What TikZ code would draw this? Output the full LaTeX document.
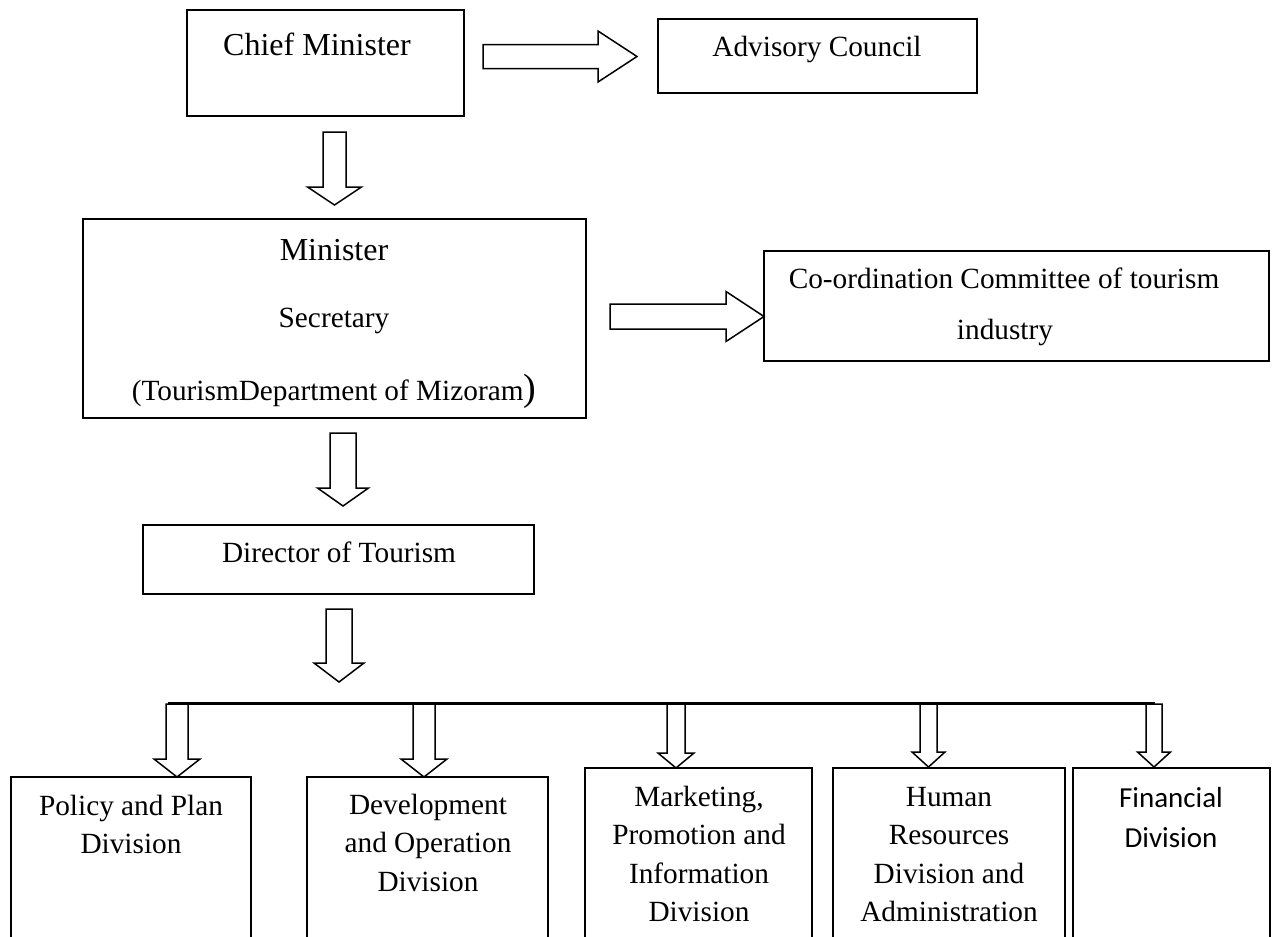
\documentclass[tikz,border=0pt]{standalone}
\usepackage{fontspec}
\setmainfont{Liberation Serif}
\newfontfamily\califont{Carlito}
\usetikzlibrary{calc}
\newcommand{\blockH}[5]{% start, tip, half shaft, half head, head length
 \draw[blk] ($(#1)+(0,-#3)$) -- ($(#2)+(-#5,-#3)$) -- ($(#2)+(-#5,-#4)$) -- (#2)
   -- ($(#2)+(-#5,#4)$) -- ($(#2)+(-#5,#3)$) -- ($(#1)+(0,#3)$) -- cycle;}
\newcommand{\blockV}[5]{% top, tip, half shaft, half head, head length
 \draw[blk] ($(#1)+(-#3,0)$) -- ($(#2)+(-#3,-#5)$) -- ($(#2)+(-#4,-#5)$) -- (#2)
   -- ($(#2)+(#4,-#5)$) -- ($(#2)+(#3,-#5)$) -- ($(#1)+(#3,0)$) -- cycle;}
\begin{document}
\begin{tikzpicture}[x=1pt,y=-1pt,
  box/.style={draw, line width=1.8pt, inner sep=0pt, outer sep=0pt},
  blk/.style={draw, line width=1.5pt, fill=white, line join=miter},
  txt/.style={inner sep=0pt, anchor=base, font=\fontsize{29.3}{38.5}\selectfont},
  big/.style={txt, font=\fontsize{32}{38.5}\selectfont},
  mtxt/.style={txt, text width=236pt, align=flush center},
  ctxt/.style={inner sep=0pt, anchor=base, text width=190pt, align=flush center, font=\califont\fontsize{29}{40}\selectfont}]
\useasboundingbox (0,0) rectangle (1278,937);
\clip (0,0) rectangle (1278,937);
\fill[white] (0,0) rectangle (1278,937);

% top row
\node[box, minimum width=277pt, minimum height=106pt] (cm) at (325.5,63) {};
\node[big] (cmt) at (317,55) {Chief Minister};
\node[box, minimum width=319pt, minimum height=74pt] (adv) at (817.5,56) {};
\node[txt] (advt) at (817,56) {Advisory Council};
\coordinate (a1s) at (483,56.5);
\coordinate (a1e) at (637,56.5);
\blockH{a1s}{a1e}{12}{25.5}{39}

\coordinate (a2s) at (334.5,132);
\coordinate (a2e) at (334.5,205);
\blockV{a2s}{a2e}{11.5}{27}{18}

% minister
\node[box, minimum width=503pt, minimum height=199pt] (min) at (334.5,318.5) {};
\node[big] (mint) at (334,260) {Minister};
\node[txt] (sect) at (334,327) {Secretary};
\node[txt] (tdt) at (334,400) {(TourismDepartment of Mizoram{\fontsize{38}{38}\selectfont)}};
\coordinate (a3s) at (610,316.5);
\coordinate (a3e) at (764,316.5);
\blockH{a3s}{a3e}{12.5}{25}{38}
\node[box, minimum width=505pt, minimum height=110pt] (coord) at (1016.5,306) {};
\node[txt] (coordt1) at (1004,288) {Co-ordination Committee of tourism};
\node[txt] (coordt2) at (1005,339) {industry};

\coordinate (a4s) at (343,433);
\coordinate (a4e) at (343,506);
\blockV{a4s}{a4e}{13}{25.5}{18}

% director
\node[box, minimum width=391pt, minimum height=69pt] (dir) at (338.5,559.5) {};
\node[txt] (dirt) at (339,562) {Director of Tourism};
\coordinate (a5s) at (339,609);
\coordinate (a5e) at (339,682);
\blockV{a5s}{a5e}{13}{25}{19}

% distribution line
\coordinate (hl) at (168,703.5);
\coordinate (hr) at (1155,703.5);
\draw[line width=2.4pt] (hl) -- (hr);

% division boxes
\node[box, minimum width=240pt, minimum height=200pt, anchor=north west] (d1) at (11,777) {};
\node[box, minimum width=241pt, minimum height=200pt, anchor=north west] (d2) at (307,777) {};
\node[box, minimum width=227pt, minimum height=200pt, anchor=north west] (d3) at (585,768) {};
\node[box, minimum width=232pt, minimum height=200pt, anchor=north west] (d4) at (833,768) {};
\node[box, minimum width=197pt, minimum height=200pt, anchor=north west] (d5) at (1073,768) {};

\node[mtxt] (d1t) at (131,815) {Policy and Plan\\Division};
\node[mtxt] (d2t) at (428,814) {Development\\and Operation\\Division};
\node[mtxt, text width=226pt] (d3t) at (699,806) {Marketing,\\Promotion and\\Information\\Division};
\node[mtxt, text width=230pt] (d4t) at (949,806) {Human\\Resources\\Division and\\Administration};
\node[ctxt] (d5t) at (1171,807) {Financial\\Division};

% division arrows
\coordinate (b1s) at (177,704);  \coordinate (b1e) at (177,777);
\coordinate (b2s) at (424,704);  \coordinate (b2e) at (424,777);
\coordinate (b3s) at (676,704);  \coordinate (b3e) at (676,768);
\coordinate (b4s) at (928.5,704); \coordinate (b4e) at (928.5,767);
\coordinate (b5s) at (1154,704); \coordinate (b5e) at (1154,767);
\blockV{b1s}{b1e}{11}{23}{18}
\blockV{b2s}{b2e}{11}{23}{18}
\blockV{b3s}{b3e}{9}{18}{15}
\blockV{b4s}{b4e}{8.5}{16.5}{15}
\blockV{b5s}{b5e}{8}{16.5}{15}
\end{tikzpicture}
\end{document}
